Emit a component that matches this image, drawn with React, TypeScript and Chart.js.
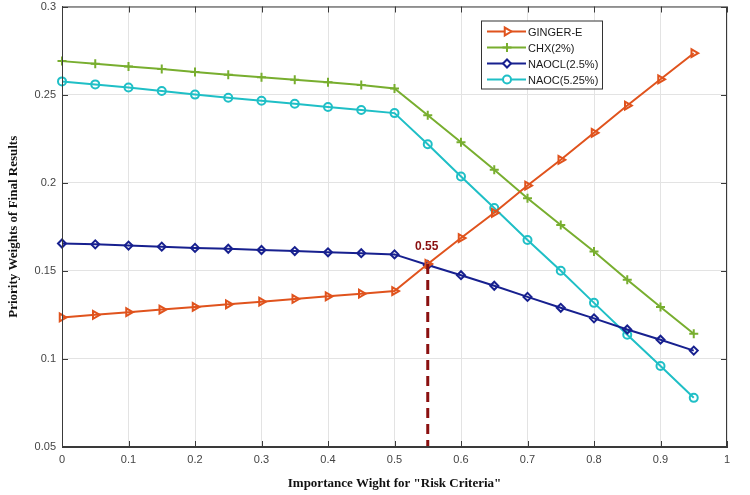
import React, { useEffect, useRef } from "react";
import Chart from "chart.js/auto";
import { drawPoint } from "chart.js/helpers";

// importance weight of risk criteria
const weights = [0, 0.05, 0.1, 0.15, 0.2, 0.25, 0.3, 0.35, 0.4, 0.45, 0.5, 0.55, 0.6, 0.65, 0.7, 0.75, 0.8, 0.85, 0.9, 0.95];

const gingerE = [0.1235, 0.125, 0.1265, 0.128, 0.1295, 0.131, 0.1325, 0.134, 0.1355, 0.137, 0.1385, 0.1539, 0.1686, 0.1829, 0.1984, 0.213, 0.2283, 0.2438, 0.2587, 0.2735];
const chx = [0.269, 0.2675, 0.266, 0.2645, 0.2628, 0.2613, 0.2598, 0.2584, 0.257, 0.2555, 0.2535, 0.2383, 0.223, 0.2074, 0.1912, 0.176, 0.161, 0.1449, 0.1294, 0.1143];
const naocl = [0.1655, 0.165, 0.1643, 0.1637, 0.163, 0.1625, 0.1618, 0.1612, 0.1605, 0.16, 0.1593, 0.1533, 0.1475, 0.1415, 0.1352, 0.129, 0.123, 0.1167, 0.1109, 0.1047];
const naoc = [0.2575, 0.2558, 0.254, 0.252, 0.25, 0.2482, 0.2465, 0.2448, 0.243, 0.2413, 0.2395, 0.2218, 0.2035, 0.1856, 0.1675, 0.15, 0.1318, 0.1137, 0.096, 0.0779];

const seriesNames = ["GINGER-E", "CHX(2%)", "NAOCL(2.5%)", "NAOC(5.25%)"];
const seriesColors = ["#e0531d", "#78ae2f", "#17208f", "#1fbfc6"];

const optimumWeight = 0.55;
const optimumLabel = "0.55";

const xTicks = [0, 0.1, 0.2, 0.3, 0.4, 0.5, 0.6, 0.7, 0.8, 0.9, 1];
const yTicks = [0.05, 0.1, 0.15, 0.2, 0.25, 0.3];

const AXIS_COLOR = "#3a3a3a";

// box around the axes with matlab style inward ticks
const framePlugin = {
  id: "frame",
  afterDraw(chart: any) {
    const { ctx, chartArea: a, scales } = chart;
    ctx.save();
    ctx.strokeStyle = AXIS_COLOR;
    ctx.lineWidth = 1;
    ctx.strokeRect(a.left + 0.5, a.top + 0.5, a.right - a.left - 1, a.bottom - a.top - 1);
    ctx.beginPath();
    xTicks.forEach((t) => {
      const px = Math.round(scales.x.getPixelForValue(t)) + 0.5;
      ctx.moveTo(px, a.bottom);
      ctx.lineTo(px, a.bottom - 6);
      ctx.moveTo(px, a.top);
      ctx.lineTo(px, a.top + 6);
    });
    yTicks.forEach((t) => {
      const py = Math.round(scales.y.getPixelForValue(t)) + 0.5;
      ctx.moveTo(a.left, py);
      ctx.lineTo(a.left + 6, py);
      ctx.moveTo(a.right, py);
      ctx.lineTo(a.right - 6, py);
    });
    ctx.stroke();
    ctx.restore();
  },
};

// dashed drop line at the crossing point
const markerPlugin = {
  id: "optimum",
  afterDatasetsDraw(chart: any) {
    const { ctx, scales } = chart;
    const idx = weights.indexOf(optimumWeight);
    const px = scales.x.getPixelForValue(optimumWeight);
    const pyTop = scales.y.getPixelForValue(gingerE[idx]);
    const pyBottom = scales.y.getPixelForValue(0.05);
    ctx.save();
    ctx.strokeStyle = "#8a1010";
    ctx.lineWidth = 3;
    ctx.setLineDash([10, 6]);
    ctx.beginPath();
    ctx.moveTo(px, pyTop);
    ctx.lineTo(px, pyBottom);
    ctx.stroke();
    ctx.setLineDash([]);
    ctx.fillStyle = "#8a1010";
    ctx.font = "bold 12px 'Liberation Sans', Arial, sans-serif";
    ctx.textAlign = "center";
    ctx.textBaseline = "bottom";
    ctx.fillText(optimumLabel, px - 1, pyTop - 11);
    ctx.restore();
  },
};

// legend box in the upper right of the axes
const legendPlugin = {
  id: "boxLegend",
  afterDraw(chart: any) {
    const { ctx, chartArea: a } = chart;
    const boxLeft = a.left + 419;
    const boxTop = a.top + 14;
    const boxW = 121;
    const rowH = 16;
    const boxH = rowH * chart.data.datasets.length + 4;
    ctx.save();
    ctx.fillStyle = "#ffffff";
    ctx.fillRect(boxLeft, boxTop, boxW, boxH);
    ctx.strokeStyle = "#333333";
    ctx.lineWidth = 1;
    ctx.strokeRect(boxLeft + 0.5, boxTop + 0.5, boxW, boxH);
    chart.data.datasets.forEach((ds: any, i: number) => {
      const cy = boxTop + 11 + i * rowH;
      ctx.strokeStyle = ds.borderColor;
      ctx.lineWidth = 2;
      ctx.beginPath();
      ctx.moveTo(boxLeft + 6, cy);
      ctx.lineTo(boxLeft + 45, cy);
      ctx.stroke();
      ctx.fillStyle = "#ffffff";
      drawPoint(
        ctx,
        {
          pointStyle: ds.pointStyle,
          radius: ds.pointRadius,
          rotation: ds.pointRotation || 0,
          borderWidth: 2,
        } as any,
        boxLeft + 26,
        cy
      );
      ctx.fillStyle = "#1a1a1a";
      ctx.font = "11px 'Liberation Sans', Arial, sans-serif";
      ctx.textAlign = "left";
      ctx.textBaseline = "middle";
      ctx.fillText(ds.label, boxLeft + 47, cy + 1);
    });
    ctx.restore();
  },
};

const App = () => {
  const chartRef = useRef<HTMLCanvasElement | null>(null);
  const chartInstanceRef = useRef<Chart | null>(null);

  useEffect(() => {
    const ctx = chartRef.current?.getContext("2d");
    if (!ctx) return;

    if (chartInstanceRef.current) {
      chartInstanceRef.current.destroy();
    }

    const toPoints = (vals: number[]) => vals.map((v, i) => ({ x: weights[i], y: v }));
    const allSeries = [gingerE, chx, naocl, naoc];
    const styles: any[] = [
      { pointStyle: "triangle", pointRotation: 90, pointRadius: 4.5 },
      { pointStyle: "cross", pointRotation: 0, pointRadius: 4.5 },
      { pointStyle: "rectRot", pointRotation: 0, pointRadius: 4 },
      { pointStyle: "circle", pointRotation: 0, pointRadius: 4 },
    ];

    chartInstanceRef.current = new Chart(ctx, {
      type: "line",
      data: {
        datasets: allSeries.map((vals, i) => ({
          label: seriesNames[i],
          data: toPoints(vals),
          borderColor: seriesColors[i],
          backgroundColor: "rgba(255,255,255,0)",
          pointBorderColor: seriesColors[i],
          pointBackgroundColor: "rgba(255,255,255,0)",
          borderWidth: 2,
          pointBorderWidth: 2,
          pointStyle: styles[i].pointStyle,
          pointRotation: styles[i].pointRotation,
          pointRadius: styles[i].pointRadius,
          tension: 0,
          fill: false,
          clip: false,
        })),
      },
      options: {
        animation: false,
        responsive: true,
        maintainAspectRatio: false,
        layout: { padding: { left: 0, right: 23, top: 5, bottom: 0 } },
        scales: {
          x: {
            type: "linear",
            min: 0,
            max: 1,
            afterBuildTicks: (s: any) => {
              s.ticks = xTicks.map((v) => ({ value: v }));
            },
            afterFit: (s: any) => {
              s.height = 48;
              s.paddingLeft = 0;
              s.paddingRight = 0;
            },
            ticks: {
              color: "#444444",
              font: { family: "'Liberation Sans', Arial, sans-serif", size: 11 },
              padding: 6,
              maxRotation: 0,
              callback: (v: any) => String(Math.round(Number(v) * 10) / 10),
            },
            grid: { color: "#e3e3e3", drawTicks: false },
            border: { color: AXIS_COLOR },
            title: {
              display: true,
              text: 'Importance Wight for "Risk Criteria"',
              color: "#111111",
              font: { family: "'Liberation Serif', 'Times New Roman', serif", size: 13, weight: "bold" },
              padding: { top: 6 },
            },
          },
          y: {
            type: "linear",
            min: 0.05,
            max: 0.3,
            afterBuildTicks: (s: any) => {
              s.ticks = yTicks.map((v) => ({ value: v }));
            },
            afterFit: (s: any) => {
              s.width = 62;
              s.paddingTop = 0;
              s.paddingBottom = 0;
            },
            ticks: {
              color: "#444444",
              font: { family: "'Liberation Sans', Arial, sans-serif", size: 11 },
              padding: 6,
              callback: (v: any) => String(Math.round(Number(v) * 100) / 100),
            },
            grid: { color: "#e3e3e3", drawTicks: false },
            border: { color: AXIS_COLOR },
            title: {
              display: true,
              text: "Priority Weights of Final Results",
              color: "#111111",
              font: { family: "'Liberation Serif', 'Times New Roman', serif", size: 13, weight: "bold" },
              padding: { bottom: 0, top: 6 },
            },
          },
        },
        plugins: {
          legend: { display: false },
          tooltip: { enabled: false },
        },
      },
      plugins: [framePlugin, markerPlugin, legendPlugin],
    });

    return () => {
      if (chartInstanceRef.current) {
        chartInstanceRef.current.destroy();
        chartInstanceRef.current = null;
      }
    };
  }, []);

  return (
    <div
      style={{
        position: "fixed",
        left: 0,
        top: 0,
        width: 750,
        height: 495,
        background: "#ffffff",
      }}
    >
      <canvas ref={chartRef}></canvas>
    </div>
  );
};

export default App;
